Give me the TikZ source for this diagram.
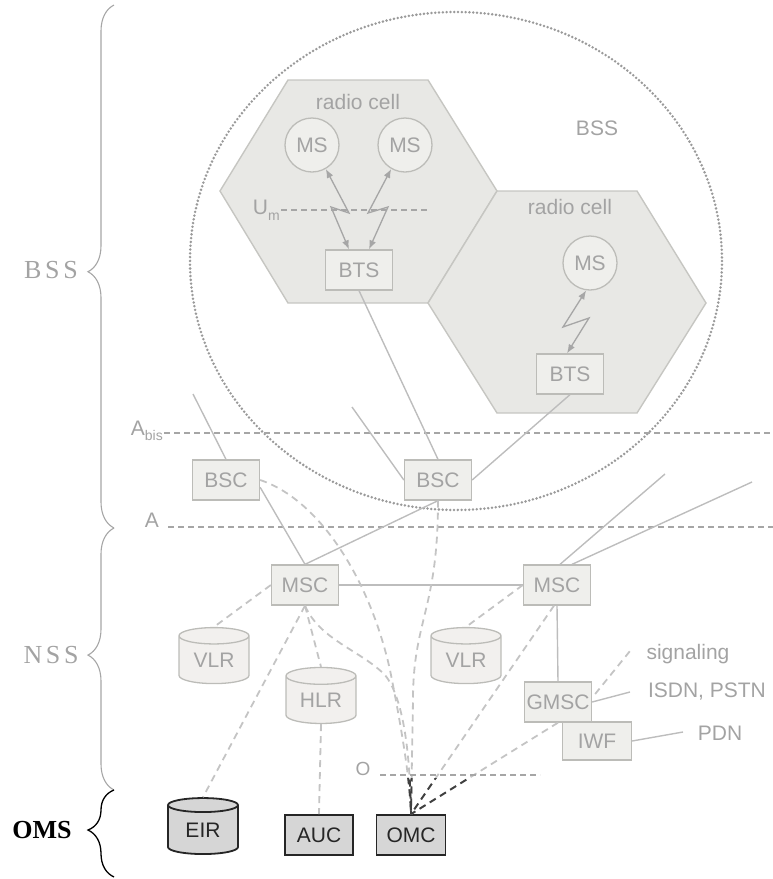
\documentclass[tikz,border=0pt]{standalone}
\usepackage{fontspec}
\setmainfont{Liberation Sans}
\newfontfamily\lblfont[LetterSpace=14]{Liberation Serif}
\newfontfamily\lblbold{Liberation Serif}
\usetikzlibrary{arrows.meta,calc,shapes.geometric,decorations.pathreplacing}
\definecolor{txt}{HTML}{A3A3A3}
\definecolor{boxline}{HTML}{BCBCB8}
\definecolor{boxfill}{HTML}{EFEFEC}
\definecolor{cylfill}{HTML}{F2F0EE}
\definecolor{hexfill}{HTML}{E8E8E5}
\definecolor{hexline}{HTML}{C6C6C2}
\definecolor{linegray}{HTML}{BDBDBD}
\definecolor{dashgray}{HTML}{C4C4C4}
\definecolor{ifgray}{HTML}{A6A6A6}
\definecolor{dotgray}{HTML}{9A9A9A}
\definecolor{omsfill}{HTML}{D6D6D6}
\newcommand\omclinks[1]{%
  \draw[#1] (bsc1.east) .. controls (320,500) and (370,580) .. (390,670) .. controls (402,730) and (410,780) .. (omc.north);
  \draw[#1] (bsc2.south) .. controls (438,610) and (413,620) .. (413,700) -- (omc.north);
  \draw[#1] (msc1.south) .. controls (320,640) and (360,650) .. (385,675) .. controls (405,700) and (410,760) .. (omc.north);
  \draw[#1] ($(msc2.south)+(-3,0)$) -- (omc.north);
  \draw[#1] (gmsc.south) -- (omc.north);
}
\begin{document}
\begin{tikzpicture}[x=1pt,y=-1pt,font=\fontsize{21}{24}\selectfont,
  hex/.style={fill=hexfill,draw=hexline,line width=1.4pt,line join=miter},
  box/.style={draw=boxline,fill=boxfill,line width=1.3pt,minimum width=67pt,minimum height=40pt,inner sep=0pt,text=txt},
  ms/.style={circle,draw=boxline,fill=boxfill,line width=1.3pt,minimum size=54pt,inner sep=0pt,text=txt},
  cyl/.style={cylinder,shape border rotate=90,aspect=0.4,draw=boxline,fill=cylfill,line width=1.3pt,minimum width=70pt,minimum height=56pt,inner sep=0pt,text=txt},
  omsbox/.style={box,draw=black!85,fill=omsfill,text=black!85,line width=1.8pt},
  omscyl/.style={cyl,draw=black!85,fill=omsfill,text=black!85,line width=1.8pt},
  lbl/.style={text=txt,inner sep=1pt},
  link/.style={draw=linegray,line width=1.4pt},
  dlink/.style={draw=dashgray,line width=1.8pt,dash pattern=on 7pt off 5pt},
  darklink/.style={draw=black!75,line width=1.9pt,dash pattern=on 7pt off 5pt},
  iface/.style={draw=ifgray,line width=1.1pt,dash pattern=on 6pt off 4pt},
  radio/.style={draw=ifgray,line width=1.3pt,<->,>={Latex[length=9pt,width=7pt]}},
  bracegray/.style={draw=ifgray,line width=1.1pt,decorate},
]
\useasboundingbox (0,0) rectangle (773,879);

% cells
\draw[hex] (288,80) -- (428,80) -- (497,191) -- (428,303) -- (288,303) -- (220,191) -- cycle;
\draw[hex] (497,191) -- (637,191) -- (706,303) -- (637,413) -- (497,413) -- (428,303) -- cycle;
\node[lbl] (rc1) at (358,102) {radio cell};
\node[lbl] (rc2) at (570,207) {radio cell};
\node[lbl] (bsslbl) at (597,128) {BSS};

% BSS boundary
\draw[draw=dotgray,line width=2.8pt,line cap=round,dash pattern=on 0pt off 3.8pt] (456,261) ellipse [x radius=266, y radius=249];

% interfaces
\node[lbl,anchor=east] (um) at (281,210) {U\raisebox{-0.5ex}{\fontsize{14}{14}\selectfont m}};
\coordinate (umr) at (430,210);
\draw[iface] (um.east) -- (umr);
\node[lbl,anchor=east] (abis) at (164,431) {A\raisebox{-0.5ex}{\fontsize{14}{14}\selectfont bis}};
\coordinate (abisr) at (773,433);
\draw[iface] (abis.east |- abisr) -- (abisr);
\node[lbl] (alb) at (152,520) {A};
\coordinate (al) at (168,527);
\coordinate (ar) at (773,527);
\draw[iface] (al) -- (ar);

% BSS nodes
\node[ms] (ms1) at (312,145) {MS};
\node[ms] (ms2) at (405,145) {MS};
\node[ms] (ms3) at (590,263) {MS};
\node[box] (bts1) at (359,270) {BTS};
\node[box] (bts2) at (570,374) {BTS};
\node[box] (bsc1) at (226,480) {BSC};
\node[box] (bsc2) at (438,480) {BSC};

\draw[radio] (ms1.-60) -- (349,213) -- (331,207) -- ($(bts1.north)+(-10,0)$);
\draw[radio] (ms2.-120) -- (368,213) -- (388,207) -- ($(bts1.north)+(10,0)$);
\draw[radio] (ms3.-98) -- (563,327) -- (589,318) -- ($(bts2.north)+(-3,0)$);

% NSS nodes
\node[box] (msc1) at (305,585) {MSC};
\node[box] (msc2) at (557,585) {MSC};
\node[box] (gmsc) at (558,702) {GMSC};
\node[box,minimum width=69pt,minimum height=38pt] (iwf) at (597,741) {IWF};
\node[cyl] (vlr1) at (214,660) {VLR};
\node[cyl] (vlr2) at (466,660) {VLR};
\node[cyl] (hlr) at (321,700) {HLR};

% OMS nodes
\node[omscyl] (eir) at (203,830) {EIR};
\node[omsbox,minimum width=68pt] (auc) at (319,835) {AUC};
\node[omsbox,minimum width=69pt] (omc) at (411,835) {OMC};

% solid links
\coordinate (l1) at (193,394);
\coordinate (l2) at (352,407);
\coordinate (tr1) at (665,474);
\coordinate (tr2) at (752,482);
\draw[link] (bts1.south) -- (bsc2.north);
\draw[link] (bsc2.east) -- (bts2.south);
\draw[link] (l1) -- (bsc1.north);
\draw[link] (l2) -- (bsc2.west);
\draw[link] (bsc1.-12) -- (msc1.north);
\draw[link] (bsc2.south) -- (msc1.north);
\draw[link] (msc1.east) -- (msc2.west);
\draw[link] ($(msc2.north)+(3,0)$) -- (tr1);
\draw[link] ($(msc2.north)+(15,0)$) -- (tr2);
\draw[link] (msc2.south) -- (gmsc.north);

% external networks
\node[lbl] (sig) at (688,654) {signaling};
\node[lbl] (isdn) at (707,692) {ISDN, PSTN};
\node[lbl] (pdn) at (720,733) {PDN};
\coordinate (sigc) at (630,651);
\coordinate (isdnc) at (630,692);
\coordinate (pdnc) at (683,732);
\draw[dlink] ($(gmsc.east)+(3,-8)$) -- (sigc);
\draw[link] (gmsc.east) -- (isdnc);
\draw[link] (iwf.east) -- (pdnc);

% signalling (dashed)
\draw[dlink] (msc1.west) -- (vlr1.north);
\draw[dlink] (msc2.west) -- (vlr2.north);
\draw[dlink] (msc1.south) -- (eir.north);
\draw[dlink] (msc1.south) -- (hlr.north);
\draw[dlink] (hlr.south) -- (auc.north);
\omclinks{dlink}
\begin{scope}
  \clip (330,778) rectangle (560,816);
  \omclinks{darklink}
\end{scope}

% O interface
\node[lbl,font=\fontsize{19}{20}\selectfont] (olbl) at (363,769) {O};
\coordinate (ol) at (380,775);
\coordinate (or) at (540,775);
\draw[iface] (ol) -- (or);

% braces
\draw[bracegray,decoration={brace,amplitude=26pt,aspect=0.49}] (114,528) -- (114,5);
\draw[bracegray,decoration={brace,amplitude=26pt,aspect=0.515}] (114,790) -- (114,528);
\draw[draw=black,line width=1.3pt,decorate,decoration={brace,amplitude=26pt,aspect=0.54}] (114,877) -- (114,790);
\node[text=txt,font=\fontsize{26}{28}\selectfont\lblfont] (bss) at (51,270) {BSS};
\node[text=txt,font=\fontsize{26}{28}\selectfont\lblfont] (nss) at (51,655) {NSS};
\node[text=black,font=\fontsize{26}{28}\selectfont\lblbold\bfseries] (oms) at (42,830) {OMS};
\end{tikzpicture}
\end{document}
